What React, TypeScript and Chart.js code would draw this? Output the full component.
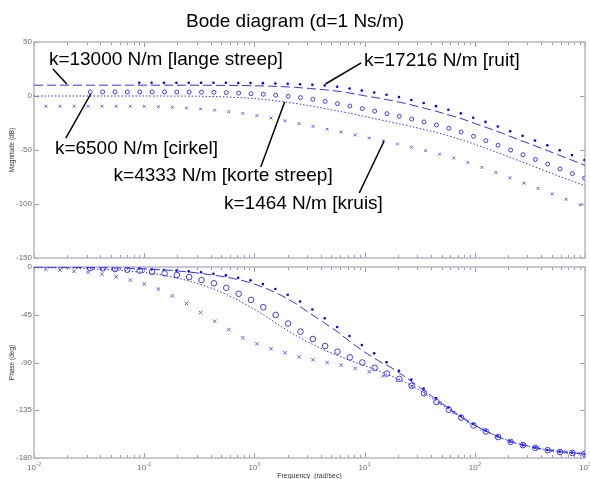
import React, { useEffect, useRef } from 'react';
import { Chart, registerables } from 'chart.js';

Chart.register(...registerables);

const W = 590;
const H = 479;
const FONT = '"Liberation Sans", Arial, Helvetica, sans-serif';

// ---- k = 17216 N/m [ruit] (dots) ----
const freqRuit = [0.0902, 0.1167, 0.151, 0.196, 0.2535, 0.328, 0.4246, 0.551, 0.713, 0.923, 1.194, 1.549, 2.005, 2.594, 3.357, 4.345, 5.636, 7.295, 9.44, 12.22, 15.81, 20.51, 26.55, 34.36, 44.46, 57.54, 74.64, 96.6, 125.0, 161.8, 209.4, 271.6, 351.6, 455, 589, 762, 988.5];
const magRuit = [12.2, 12.2, 12.2, 12.2, 12.2, 12.2, 12.2, 12.2, 12.1, 12.0, 11.9, 11.6, 11.3, 10.9, 10.4, 9.7, 8.6, 7.0, 5.1, 3.3, 1.2, -1.0, -3.7, -6.5, -9.4, -12.7, -16.1, -20.1, -24.0, -28.2, -32.6, -36.9, -41.3, -45.7, -50.2, -54.7, -59.3];
const phaseRuit = [-1.4, -2.2, -2.8, -3.4, -4.1, -5.0, -6.3, -7.9, -10.1, -12.6, -16.1, -20.8, -26.2, -32.5, -40.1, -48.3, -56.5, -65.0, -73.6, -81.4, -89.7, -97.8, -106.1, -114.6, -123.4, -132.3, -140.4, -148.0, -154.1, -159.8, -164.5, -167.6, -170.2, -172.4, -174.0, -174.9, -176.2];

// ---- k = 6500 N/m [cirkel] (circles) ----
const freqCirkel = [0.03243, 0.04198, 0.05433, 0.07031, 0.0912, 0.118, 0.1528, 0.1977, 0.2559, 0.3311, 0.4295, 0.5559, 0.7194, 0.9311, 1.205, 1.56, 2.023, 2.618, 3.388, 4.385, 5.675, 7.345, 9.528, 12.33, 15.96, 20.65, 26.73, 34.59, 44.87, 58.08, 75.16, 97.27, 125.9, 162.9, 211.3, 273.5, 354.0, 458.1, 592.9, 767.4, 993.1];
const magCirkel = [3.8, 3.8, 3.8, 3.8, 3.8, 3.8, 3.8, 3.7, 3.6, 3.5, 3.4, 3.1, 2.7, 2.2, 1.6, 0.8, -0.3, -1.5, -3.1, -5.0, -7.1, -9.3, -11.7, -14.0, -16.4, -18.8, -21.3, -24.0, -26.8, -29.9, -33.4, -37.3, -41.4, -45.6, -50.0, -54.3, -58.7, -63.1, -67.5, -71.8, -76.0];
const phaseCirkel = [-0.9, -1.2, -1.9, -2.6, -3.4, -4.6, -6.0, -7.6, -9.5, -12.3, -15.4, -19.6, -25.3, -31.0, -37.9, -45.2, -53.3, -60.9, -67.9, -74.5, -79.8, -85.2, -90.0, -95.0, -100.4, -105.4, -112.0, -119.0, -127.2, -134.5, -142.0, -149.3, -155.0, -160.3, -164.8, -167.9, -170.5, -172.6, -174.3, -175.2, -176.2];

// ---- k = 1464 N/m [kruis] (crosses) ----
const freqKruis = [0.01282, 0.01722, 0.02307, 0.03097, 0.0415, 0.05572, 0.07482, 0.1002, 0.1346, 0.1803, 0.2421, 0.3251, 0.4355, 0.5848, 0.7834, 1.052, 1.413, 1.892, 2.541, 3.404, 4.571, 6.138, 8.222, 11.04, 14.79, 19.86, 26.67, 35.73, 47.97, 64.27, 86.3, 115.9, 155.2, 208.4, 279.3, 375.0, 503.5, 674.5, 905.7];
const magKruis = [-9.5, -9.5, -9.5, -9.5, -9.5, -9.5, -9.5, -9.6, -9.9, -10.5, -11.1, -12.0, -13.2, -14.5, -16.1, -18.1, -20.4, -22.9, -25.5, -28.2, -30.8, -33.4, -36.1, -38.8, -41.5, -44.4, -47.5, -50.6, -53.9, -57.5, -61.5, -66.1, -70.8, -75.7, -80.7, -85.6, -90.6, -95.6, -100.7];
const phaseKruis = [-2.2, -2.8, -4.1, -5.0, -6.9, -9.2, -12.3, -16.1, -20.8, -27.2, -34.4, -42.9, -51.1, -59.0, -66.6, -72.3, -77.0, -80.8, -84.6, -87.4, -90.0, -92.5, -95.6, -98.8, -102.6, -106.8, -112.5, -119.3, -128.3, -137.3, -145.8, -152.9, -159.1, -164.3, -167.9, -170.7, -173.1, -174.5, -175.8];

// ---- continuous lines: k = 13000 [lange streep] and k = 4333 [korte streep] ----
const freqLine = [0.01, 0.01334, 0.01778, 0.02371, 0.03162, 0.04217, 0.05623, 0.07499, 0.1, 0.1334, 0.1778, 0.2371, 0.3162, 0.4217, 0.5623, 0.7499, 1, 1.334, 1.778, 2.371, 3.162, 4.217, 5.623, 7.499, 10, 13.34, 17.78, 23.71, 31.62, 42.17, 56.23, 74.99, 100, 133.4, 177.8, 237.1, 316.2, 421.7, 562.3, 749.9, 1000];
const magLange = [10.0, 10.0, 10.0, 10.0, 10.0, 10.0, 10.0, 10.0, 10.0, 10.0, 10.0, 10.0, 10.0, 9.9, 9.8, 9.7, 9.5, 9.2, 8.7, 8.0, 7.0, 5.9, 4.5, 2.6, 0.2, -1.9, -4.3, -7.0, -10.2, -13.4, -17.1, -20.8, -25.4, -29.9, -34.5, -39.6, -44.3, -49.2, -54.2, -59.2, -64.2];
const phaseLange = [-0.2, -0.2, -0.3, -0.4, -0.5, -0.7, -0.9, -1.2, -1.7, -2.4, -3.2, -4.4, -5.8, -7.6, -9.6, -12.3, -16.0, -21.0, -27.0, -34.4, -43.4, -52.0, -60.7, -71.0, -80.2, -88.3, -95.3, -104.0, -113.5, -122.8, -132.2, -141.0, -149.2, -155.8, -161.6, -166.1, -169.2, -171.8, -173.7, -175.0, -176.2];
const magKorte = [0.0, 0.0, 0.0, 0.0, 0.0, 0.0, 0.0, 0.0, 0.0, 0.0, -0.1, -0.1, -0.2, -0.5, -0.9, -1.5, -2.4, -3.6, -5.1, -6.9, -9.0, -11.3, -13.7, -16.2, -19.0, -21.7, -24.4, -27.1, -30.1, -33.0, -36.5, -40.3, -44.7, -49.3, -54.1, -58.9, -63.7, -68.7, -73.7, -78.4, -83.0];
const phaseKorte = [-0.5, -0.7, -0.9, -1.2, -1.6, -2.2, -2.9, -3.9, -5.2, -6.9, -9.3, -12.3, -16.0, -20.5, -26.0, -32.5, -39.8, -48.0, -56.5, -64.5, -71.5, -77.8, -83.3, -88.3, -93.0, -97.8, -103.0, -109.0, -115.9, -124.8, -133.4, -141.8, -149.6, -156.0, -161.7, -166.1, -169.3, -171.8, -173.7, -175.0, -176.2];

// ---- axes ----
const magTicks = [50, 0, -50, -100, -150];
const phaseTicks = [0, -45, -90, -135, -180];
const decadeTicks = [0.01, 0.1, 1, 10, 100, 1000];
const decadeExponents = ['-2', '-1', '0', '1', '2', '3'];
const minorMultipliers = [2, 3, 4, 5, 6, 7, 8, 9];

// ---- annotations (data coordinates of the magnitude plot) ----
const annotationTexts = ['k=13000 N/m [lange streep]', 'k=17216 N/m [ruit]', 'k=6500 N/m [cirkel]', 'k=4333 N/m [korte streep]', 'k=1464 N/m [kruis]'];
const annotationTextAt = [[0.01365, 28.7], [9.86, 28.2], [0.01547, -53.7], [0.05272, -78.7], [0.5295, -104.6]];
const annotationLineFrom = [[0.01484, 25.0], [9.32, 30.6], [0.01944, -38.9], [1.142, -65.7], [8.94, -89.8]];
const annotationLineTo = [[0.01985, 11.1], [4.41, 11.1], [0.03269, 1.85], [1.881, -5.6], [15.03, -41.7]];

const TITLE = 'Bode diagram (d=1 Ns/m)';

const FRAME_COLOR = '#b6b6c8';
const TICK_COLOR = '#9a9ab0';
const LABEL_COLOR = '#6a6a78';
const LINE_BLUE = '#2f2fff';
const CIRCLE_BLUE = '#3a3aff';
const CROSS_BLUE = '#5c5cff';
const DOT_BLUE = '#0000ff';

const pts = (xs: number[], ys: number[]) => xs.map((x, i) => ({ x, y: ys[i] }));

function makeDatasets(phase: boolean): any[] {
  return [
    {
      label: 'k=4333 N/m [korte streep]',
      data: pts(freqLine, phase ? phaseKorte : magKorte),
      showLine: true, pointRadius: 0, borderColor: LINE_BLUE, borderWidth: 1, borderDash: [1.5, 2],
    },
    {
      label: 'k=13000 N/m [lange streep]',
      data: pts(freqLine, phase ? phaseLange : magLange),
      showLine: true, pointRadius: 0, borderColor: LINE_BLUE, borderWidth: 1, borderDash: [9, 4],
    },
    {
      label: 'k=1464 N/m [kruis]',
      data: pts(freqKruis, phase ? phaseKruis : magKruis),
      showLine: false, pointStyle: 'crossRot', pointRadius: phase ? 2.5 : 2,
      borderColor: CROSS_BLUE, backgroundColor: 'rgba(0,0,0,0)', pointBorderWidth: 1,
    },
    {
      label: 'k=6500 N/m [cirkel]',
      data: pts(freqCirkel, phase ? phaseCirkel : magCirkel),
      showLine: false, pointStyle: 'circle', pointRadius: phase ? 2.8 : 2,
      borderColor: CIRCLE_BLUE, backgroundColor: 'rgba(0,0,0,0)', pointBorderWidth: 1,
    },
    {
      label: 'k=17216 N/m [ruit]',
      data: pts(freqRuit, phase ? phaseRuit : magRuit),
      showLine: false, pointStyle: 'circle', pointRadius: 1.3,
      borderColor: DOT_BLUE, backgroundColor: DOT_BLUE, pointBorderWidth: 0,
    },
  ];
}

function drawAxesFrame(chart: any, yTicks: number[]) {
  const { ctx, chartArea: a } = chart;
  const xs = chart.scales.x;
  const ys = chart.scales.y;
  ctx.save();
  ctx.strokeStyle = TICK_COLOR;
  ctx.lineWidth = 1;
  ctx.beginPath();
  decadeTicks.forEach((d, i) => {
    const px = Math.round(xs.getPixelForValue(d)) + 0.5;
    ctx.moveTo(px, a.top); ctx.lineTo(px, a.top + 5);
    ctx.moveTo(px, a.bottom); ctx.lineTo(px, a.bottom - 5);
    if (i < decadeTicks.length - 1) {
      minorMultipliers.forEach((m) => {
        const q = Math.round(xs.getPixelForValue(d * m)) + 0.5;
        ctx.moveTo(q, a.top); ctx.lineTo(q, a.top + 3);
        ctx.moveTo(q, a.bottom); ctx.lineTo(q, a.bottom - 3);
      });
    }
  });
  yTicks.forEach((v) => {
    const py = Math.round(ys.getPixelForValue(v)) + 0.5;
    ctx.moveTo(a.left, py); ctx.lineTo(a.left + 5, py);
    ctx.moveTo(a.right, py); ctx.lineTo(a.right - 5, py);
  });
  ctx.stroke();
  ctx.strokeStyle = FRAME_COLOR;
  ctx.lineWidth = 1.5;
  ctx.strokeRect(a.left, a.top, a.right - a.left, a.bottom - a.top);
  ctx.restore();
}

function drawRotatedLabel(ctx: CanvasRenderingContext2D, text: string, x: number, y: number) {
  ctx.save();
  ctx.translate(x, y);
  ctx.rotate(-Math.PI / 2);
  ctx.font = `6.5px ${FONT}`;
  ctx.fillStyle = '#333';
  ctx.textAlign = 'center';
  ctx.textBaseline = 'middle';
  ctx.fillText(text, 0, 0);
  ctx.restore();
}

const topPlugin = {
  id: 'topDecor',
  beforeDatasetsDraw(chart: any) {
    drawAxesFrame(chart, magTicks);
  },
  afterDraw(chart: any) {
    const { ctx, chartArea: a } = chart;
    const xs = chart.scales.x;
    const ys = chart.scales.y;
    ctx.save();
    // title
    ctx.font = `19px ${FONT}`;
    ctx.fillStyle = '#000';
    ctx.textAlign = 'center';
    ctx.textBaseline = 'alphabetic';
    ctx.fillText(TITLE, W / 2, 27);
    // annotations
    ctx.strokeStyle = '#000';
    ctx.lineWidth = 1.5;
    annotationTexts.forEach((t, i) => {
      const f = annotationLineFrom[i];
      const to = annotationLineTo[i];
      ctx.beginPath();
      ctx.moveTo(xs.getPixelForValue(f[0]), ys.getPixelForValue(f[1]));
      ctx.lineTo(xs.getPixelForValue(to[0]), ys.getPixelForValue(to[1]));
      ctx.stroke();
      const p = annotationTextAt[i];
      ctx.textAlign = 'left';
      ctx.fillText(t, xs.getPixelForValue(p[0]), ys.getPixelForValue(p[1]));
    });
    ctx.restore();
    drawRotatedLabel(ctx, 'Magnitude (dB)', 12, (a.top + a.bottom) / 2);
  },
};

const bottomPlugin = {
  id: 'bottomDecor',
  beforeDatasetsDraw(chart: any) {
    drawAxesFrame(chart, phaseTicks);
  },
  afterDraw(chart: any) {
    const { ctx, chartArea: a } = chart;
    const xs = chart.scales.x;
    ctx.save();
    ctx.fillStyle = LABEL_COLOR;
    ctx.textBaseline = 'alphabetic';
    decadeTicks.forEach((d, i) => {
      const px = xs.getPixelForValue(d);
      ctx.font = `8px ${FONT}`;
      const wBase = ctx.measureText('10').width;
      ctx.font = `5.5px ${FONT}`;
      const wExp = ctx.measureText(decadeExponents[i]).width;
      const x0 = px - (wBase + wExp) / 2;
      ctx.font = `8px ${FONT}`;
      ctx.textAlign = 'left';
      ctx.fillText('10', x0, a.bottom + 12);
      ctx.font = `5.5px ${FONT}`;
      ctx.fillText(decadeExponents[i], x0 + wBase + 0.3, a.bottom + 8);
    });
    ctx.font = `7px ${FONT}`;
    ctx.fillStyle = '#333';
    ctx.textAlign = 'center';
    ctx.textBaseline = 'top';
    ctx.fillText('Frequency  (rad/sec)', (a.left + a.right) / 2, 473);
    ctx.restore();
    drawRotatedLabel(ctx, 'Phase (deg)', 12.5, (a.top + a.bottom) / 2);
  },
};

function makeOptions(padTop: number, padBottom: number, xHeight: number, yMin: number, yMax: number, yTicks: number[]): any {
  return {
    animation: false,
    responsive: false,
    devicePixelRatio: 1,
    events: [],
    layout: { padding: { top: padTop, bottom: padBottom, left: 0, right: 2 } },
    plugins: { legend: { display: false }, tooltip: { enabled: false }, title: { display: false } },
    scales: {
      x: {
        type: 'logarithmic',
        min: 0.01,
        max: 1000,
        grid: { display: false, drawTicks: false },
        border: { display: false },
        ticks: { display: false },
        afterFit: (s: any) => { s.height = xHeight; s.paddingLeft = 0; s.paddingRight = 0; },
      },
      y: {
        type: 'linear',
        min: yMin,
        max: yMax,
        grid: { display: false, drawTicks: false },
        border: { display: false },
        afterBuildTicks: (s: any) => { s.ticks = yTicks.map((v) => ({ value: v })); },
        ticks: { font: { family: FONT, size: 8 }, color: LABEL_COLOR, padding: 2, autoSkip: false },
        afterFit: (s: any) => { s.width = 34; s.paddingTop = 0; s.paddingBottom = 0; },
      },
    },
  };
}

export default function App() {
  const topRef = useRef<HTMLCanvasElement>(null);
  const botRef = useRef<HTMLCanvasElement>(null);

  useEffect(() => {
    const top = new Chart(topRef.current as HTMLCanvasElement, {
      type: 'scatter',
      data: { datasets: makeDatasets(false) },
      options: makeOptions(42, H - 258, 0, -150, 50, magTicks),
      plugins: [topPlugin],
    } as any);
    const bottom = new Chart(botRef.current as HTMLCanvasElement, {
      type: 'scatter',
      data: { datasets: makeDatasets(true) },
      options: makeOptions(267, 0, H - 458, -180, 0, phaseTicks),
      plugins: [bottomPlugin],
    } as any);
    return () => {
      top.destroy();
      bottom.destroy();
    };
  }, []);

  return (
    <div style={{ position: 'fixed', left: 0, top: 0, width: W, height: H, background: '#fff', overflow: 'hidden' }}>
      <canvas ref={topRef} width={W} height={H} style={{ position: 'absolute', left: 0, top: 0 }} />
      <canvas ref={botRef} width={W} height={H} style={{ position: 'absolute', left: 0, top: 0 }} />
    </div>
  );
}
